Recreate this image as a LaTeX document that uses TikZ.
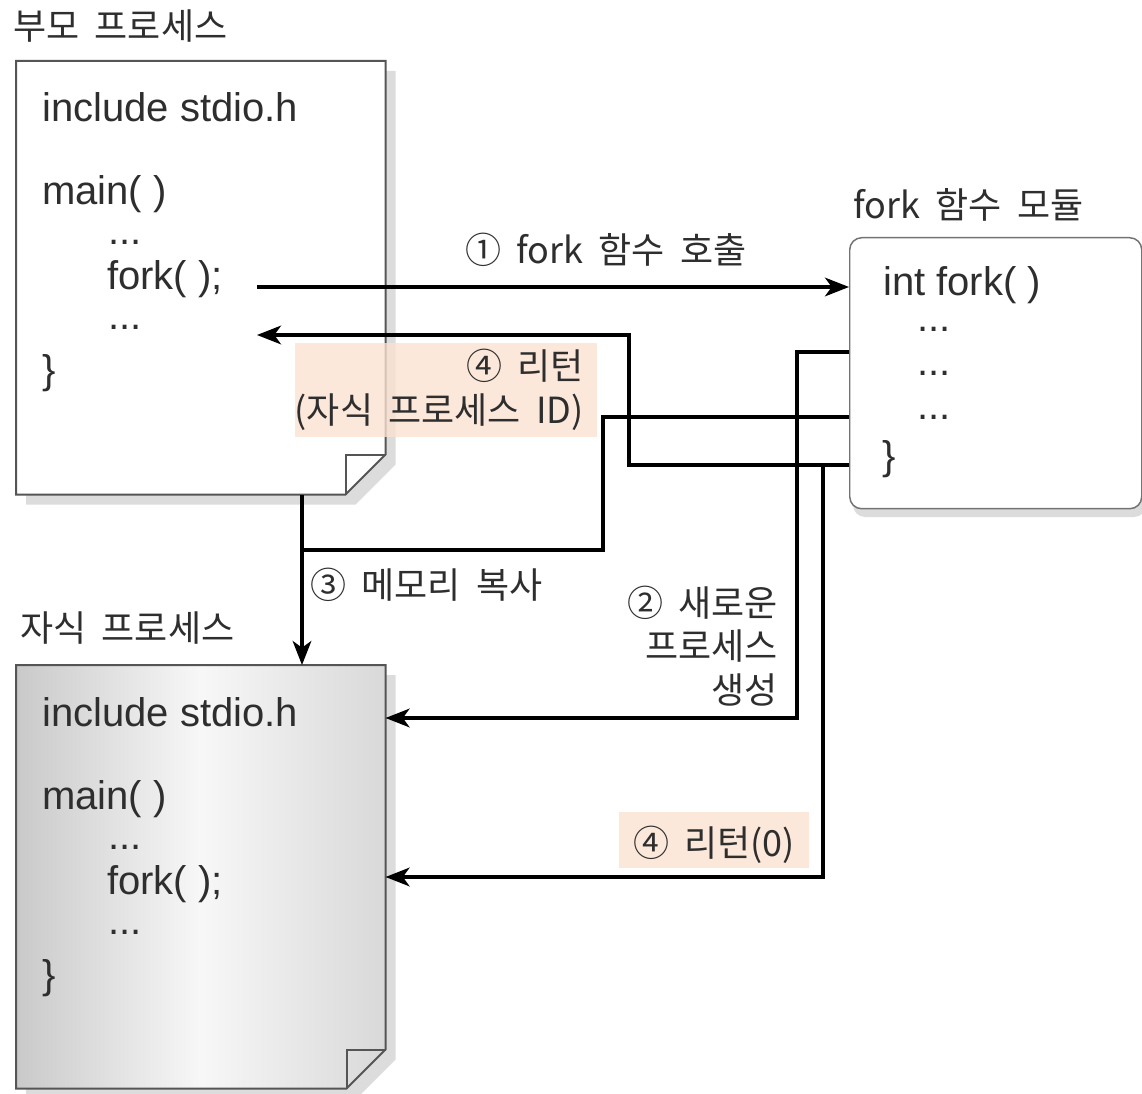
\documentclass[tikz,border=0pt]{standalone}
\usepackage{fontspec}
\setmainfont{Noto Sans CJK KR}
\newfontfamily\codefont{Liberation Sans}
\newfontfamily\korfont[WordSpace=1.9]{Noto Sans CJK KR}
\usetikzlibrary{arrows.meta}
\definecolor{peach}{RGB}{252,226,208}
\definecolor{docline}{RGB}{85,85,85}
\definecolor{shadowgray}{RGB}{220,220,220}
\newcommand\docoutline[4]{([shift={(#3,#4)}]#1.north west) -- ([shift={(#3,#4)}]#1.north east) -- ([shift={(#3,#4-#2)}]#1.south east) -- ([shift={(#3-#2,#4)}]#1.south east) -- ([shift={(#3,#4)}]#1.south west) -- cycle}
\begin{document}
\begin{tikzpicture}[x=0.75pt,y=-0.75pt,
  code/.style={font=\codefont\fontsize{30}{36}\selectfont, text=black!82, inner sep=0pt, anchor=base west},
  lbl/.style={font=\korfont\fontsize{27}{32.6}\selectfont, text=black!82, inner sep=0pt},
  conn/.style={line width=2.3pt, black, line join=miter},
  arr/.style={conn, -{Stealth[length=18pt,width=14pt,inset=5pt]}},
  docedge/.style={draw=docline, line width=1.5pt, line join=miter},
  shadowfill/.style={fill=shadowgray},
  hilite/.style={fill=peach, fill opacity=0.78},
  docbox/.style={inner sep=0pt, minimum width=276.75pt, anchor=north west}
]
\useasboundingbox[fill=white] (0,0) rectangle (1142,1094);

% documents
\node[docbox, minimum height=324.75pt] (parent) at (16,61) {};
\node[docbox, minimum height=317.25pt] (child) at (16,665) {};

% parent document
\fill[shadowfill] \docoutline{parent}{40}{10}{10};
\fill[white] \docoutline{parent}{40}{0}{0};
\draw[docedge] \docoutline{parent}{40}{0}{0};
\draw[docedge] ([shift={(-40,0)}]parent.south east) -- ([shift={(-40,-40)}]parent.south east) -- ([shift={(0,-40)}]parent.south east);

% child document
\fill[shadowfill] \docoutline{child}{39}{10}{10};
\shade[left color=black!21, right color=black!15, middle color=black!3] \docoutline{child}{39}{0}{0};
\draw[docedge] \docoutline{child}{39}{0}{0};
\draw[docedge] ([shift={(-39,0)}]child.south east) -- ([shift={(-39,-39)}]child.south east) -- ([shift={(0,-39)}]child.south east);

% fork module
\fill[shadowgray, rounded corners=9pt] (853,245) rectangle (1146,517);
\node[draw=black!55, line width=1.1pt, rounded corners=9pt, fill=white, minimum width=219pt, minimum height=203.25pt, anchor=north west, inner sep=0pt] (fork) at (849,237) {};

% free ends of connectors
\coordinate (callstart) at (257,287);
\coordinate (retend) at (257,335);
\coordinate (copyjoin) at (302,550);

% connectors
\draw[arr] (callstart) -- (fork.west |- 0,287);
\draw[arr] (fork.west |- 0,465) -- (629,465) -- (629,335) -- (retend);
\draw[conn] (fork.west |- 0,417) -- (603,417) -- (603,550) -- (copyjoin);
\draw[arr] (parent.south -| copyjoin) -- (child.north -| copyjoin);
\draw[arr] (fork.west |- 0,352) -- (797,352) -- (797,718) -- (child.east |- 0,718);
\draw[arr] (823,465) -- (823,877) -- (child.east |- 0,877);

% highlight backgrounds
\fill[hilite] (295,343) rectangle (597,437);
\fill[hilite] (619,812) rectangle (809,868);

% parent code
\node[code] (p1) at (42,122) {include stdio.h};
\node[code] (p2) at (42,205) {main( )};
\node[code] (p3) at (108,245) {...};
\node[code] (p4) at (107,290) {fork( );};
\node[code] (p5) at (108,330) {...};
\node[code] (p6) at (42,384) {\}};

% child code
\node[code] (c1) at (42,726) {include stdio.h};
\node[code] (c2) at (42,809) {main( )};
\node[code] (c3) at (108,849) {...};
\node[code] (c4) at (107,894) {fork( );};
\node[code] (c5) at (108,934) {...};
\node[code] (c6) at (42,988) {\}};

% fork module code
\node[code] (f1) at (883,296) {int fork( )};
\node[code] (f2) at (917,332) {...};
\node[code] (f3) at (917,376) {...};
\node[code] (f4) at (917,420) {...};
\node[code] (f5) at (882,470) {\}};

% labels
\node[lbl, anchor=west] (tparent) at (13,26) {부모 프로세스};
\node[lbl, anchor=west] (tchild) at (20,628) {자식 프로세스};
\node[lbl, anchor=west] (tfork) at (853,205) {fork 함수 모듈};
\node[lbl, anchor=west] (s1) at (465,250) {① fork 함수 호출};
\node[lbl, anchor=west] (s3) at (310,585) {③ 메모리 복사};
\node[lbl, anchor=east, align=right] (s2) at (778,646) {② 새로운\\프로세스\\생성};
\node[lbl, anchor=east, align=right] (s4) at (584,390) {④ 리턴\\(자식 프로세스 ID)};
\node[lbl, anchor=west] (s5) at (633,845) {④ 리턴(0)};
\end{tikzpicture}
\end{document}
